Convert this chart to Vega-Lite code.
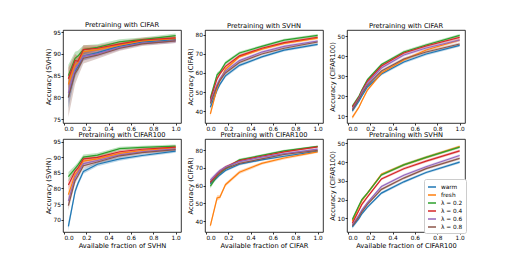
{
"$schema": "https://vega.github.io/schema/vega-lite/v6.json",
"padding": {"left": 44, "top": 21, "right": 4, "bottom": 4},
"background": "white",
"config": {
 "font": "DejaVu Sans",
 "view": {"stroke": "black", "strokeWidth": 0.8},
 "axis": {"grid": false, "domain": false, "tickColor": "black", "tickSize": 2, "tickWidth": 0.8, "labelFontSize": 5.8, "labelColor": "black", "titleFontSize": 6.7, "titleFontWeight": "normal", "titleColor": "black", "labelPadding": 0.5, "titlePadding": 2},
 "title": {"fontSize": 6.7, "fontWeight": "normal", "offset": 0.5, "color": "black"},
 "legend": {"symbolType": "stroke", "symbolStrokeWidth": 1.5, "symbolSize": 64, "symbolOpacity": 1, "labelFontSize": 5.8, "labelColor": "black", "labelOpacity": 1, "rowPadding": 0, "padding": 3, "fillColor": "white", "strokeColor": "#cccccc", "cornerRadius": 2, "labelOffset": 4, "orient": "none", "legendX": 361, "legendY": 149, "title": null}
},
"datasets": {
"d1": [
{"s":"warm","x":0.04,"y":80,"lo":77.5,"hi":82.5},{"s":"warm","x":0.1,"y":86,"lo":84.5,"hi":87.5},{"s":"warm","x":0.125,"y":87,"lo":85.8,"hi":88.2},{"s":"warm","x":0.175,"y":89.5,"lo":88.5,"hi":90.5},{"s":"warm","x":0.3,"y":90.3,"lo":89.6,"hi":91},{"s":"warm","x":0.5,"y":91.8,"lo":91.2,"hi":92.4},{"s":"warm","x":0.7,"y":92.7,"lo":92.2,"hi":93.2},{"s":"warm","x":1,"y":93.3,"lo":92.8,"hi":93.8},
{"s":"fresh","x":0.04,"y":83,"lo":80.5,"hi":85.5},{"s":"fresh","x":0.1,"y":87.5,"lo":86,"hi":89},{"s":"fresh","x":0.125,"y":88,"lo":86.8,"hi":89.2},{"s":"fresh","x":0.175,"y":90.5,"lo":89.5,"hi":91.5},{"s":"fresh","x":0.3,"y":91,"lo":90.3,"hi":91.7},{"s":"fresh","x":0.5,"y":92,"lo":91.4,"hi":92.6},{"s":"fresh","x":0.7,"y":93,"lo":92.5,"hi":93.5},{"s":"fresh","x":1,"y":93.5,"lo":93,"hi":94},
{"s":"λ = 0.2","x":0.04,"y":85,"lo":82.5,"hi":87.5},{"s":"λ = 0.2","x":0.1,"y":89,"lo":87.5,"hi":90.5},{"s":"λ = 0.2","x":0.125,"y":89.5,"lo":88.3,"hi":90.7},{"s":"λ = 0.2","x":0.175,"y":91,"lo":90,"hi":92},{"s":"λ = 0.2","x":0.3,"y":91.5,"lo":90.8,"hi":92.2},{"s":"λ = 0.2","x":0.5,"y":92.8,"lo":92.2,"hi":93.4},{"s":"λ = 0.2","x":0.7,"y":93.3,"lo":92.8,"hi":93.8},{"s":"λ = 0.2","x":1,"y":94.2,"lo":93.7,"hi":94.7},
{"s":"λ = 0.4","x":0.04,"y":84.3,"lo":81.8,"hi":86.8},{"s":"λ = 0.4","x":0.1,"y":88.5,"lo":87,"hi":90},{"s":"λ = 0.4","x":0.125,"y":88.3,"lo":87.1,"hi":89.5},{"s":"λ = 0.4","x":0.175,"y":91,"lo":90,"hi":92},{"s":"λ = 0.4","x":0.3,"y":91.3,"lo":90.6,"hi":92},{"s":"λ = 0.4","x":0.5,"y":92.3,"lo":91.7,"hi":92.9},{"s":"λ = 0.4","x":0.7,"y":93.2,"lo":92.7,"hi":93.7},{"s":"λ = 0.4","x":1,"y":93.7,"lo":93.2,"hi":94.2},
{"s":"λ = 0.6","x":0.04,"y":81,"lo":78.5,"hi":83.5},{"s":"λ = 0.6","x":0.1,"y":86.5,"lo":85,"hi":88},{"s":"λ = 0.6","x":0.125,"y":87.5,"lo":86.3,"hi":88.7},{"s":"λ = 0.6","x":0.175,"y":89.5,"lo":88.5,"hi":90.5},{"s":"λ = 0.6","x":0.3,"y":90,"lo":89.3,"hi":90.7},{"s":"λ = 0.6","x":0.5,"y":91.5,"lo":90.9,"hi":92.1},{"s":"λ = 0.6","x":0.7,"y":92.5,"lo":92,"hi":93},{"s":"λ = 0.6","x":1,"y":93,"lo":92.5,"hi":93.5},
{"s":"λ = 0.8","x":0.04,"y":80,"lo":75.5,"hi":84.5},{"s":"λ = 0.8","x":0.1,"y":85.5,"lo":83,"hi":88},{"s":"λ = 0.8","x":0.125,"y":86.5,"lo":84.7,"hi":88.3},{"s":"λ = 0.8","x":0.175,"y":89,"lo":87.8,"hi":90.2},{"s":"λ = 0.8","x":0.3,"y":89.7,"lo":88.9,"hi":90.5},{"s":"λ = 0.8","x":0.5,"y":91.3,"lo":90.7,"hi":91.9},{"s":"λ = 0.8","x":0.7,"y":92.3,"lo":91.8,"hi":92.8},{"s":"λ = 0.8","x":1,"y":93,"lo":92.5,"hi":93.5}
],
"d2": [
{"s":"warm","x":0.04,"y":42,"lo":40.5,"hi":43.5},{"s":"warm","x":0.1,"y":51,"lo":49.8,"hi":52.2},{"s":"warm","x":0.125,"y":54,"lo":53,"hi":55},{"s":"warm","x":0.175,"y":58.5,"lo":57.6,"hi":59.4},{"s":"warm","x":0.3,"y":64,"lo":63.2,"hi":64.8},{"s":"warm","x":0.5,"y":68.5,"lo":67.8,"hi":69.2},{"s":"warm","x":0.7,"y":72,"lo":71.3,"hi":72.7},{"s":"warm","x":1,"y":75,"lo":74.3,"hi":75.7},
{"s":"fresh","x":0.04,"y":38.5,"lo":37,"hi":40},{"s":"fresh","x":0.1,"y":52,"lo":50.8,"hi":53.2},{"s":"fresh","x":0.125,"y":56,"lo":55,"hi":57},{"s":"fresh","x":0.175,"y":62,"lo":61.1,"hi":62.9},{"s":"fresh","x":0.3,"y":68.5,"lo":67.7,"hi":69.3},{"s":"fresh","x":0.5,"y":72.5,"lo":71.8,"hi":73.2},{"s":"fresh","x":0.7,"y":75.5,"lo":74.8,"hi":76.2},{"s":"fresh","x":1,"y":78.3,"lo":77.6,"hi":79},
{"s":"λ = 0.2","x":0.04,"y":46.8,"lo":45.3,"hi":48.3},{"s":"λ = 0.2","x":0.1,"y":59,"lo":57.8,"hi":60.2},{"s":"λ = 0.2","x":0.125,"y":60.5,"lo":59.5,"hi":61.5},{"s":"λ = 0.2","x":0.175,"y":65.3,"lo":64.4,"hi":66.2},{"s":"λ = 0.2","x":0.3,"y":70.5,"lo":69.7,"hi":71.3},{"s":"λ = 0.2","x":0.5,"y":74,"lo":73.3,"hi":74.7},{"s":"λ = 0.2","x":0.7,"y":77.3,"lo":76.6,"hi":78},{"s":"λ = 0.2","x":1,"y":79.8,"lo":79.1,"hi":80.5},
{"s":"λ = 0.4","x":0.04,"y":46,"lo":44.5,"hi":47.5},{"s":"λ = 0.4","x":0.1,"y":57,"lo":55.8,"hi":58.2},{"s":"λ = 0.4","x":0.125,"y":59.5,"lo":58.5,"hi":60.5},{"s":"λ = 0.4","x":0.175,"y":63.5,"lo":62.6,"hi":64.4},{"s":"λ = 0.4","x":0.3,"y":69,"lo":68.2,"hi":69.8},{"s":"λ = 0.4","x":0.5,"y":73,"lo":72.3,"hi":73.7},{"s":"λ = 0.4","x":0.7,"y":76,"lo":75.3,"hi":76.7},{"s":"λ = 0.4","x":1,"y":78.8,"lo":78.1,"hi":79.5},
{"s":"λ = 0.6","x":0.04,"y":45,"lo":43.5,"hi":46.5},{"s":"λ = 0.6","x":0.1,"y":54,"lo":52.8,"hi":55.2},{"s":"λ = 0.6","x":0.125,"y":57,"lo":56,"hi":58},{"s":"λ = 0.6","x":0.175,"y":61,"lo":60.1,"hi":61.9},{"s":"λ = 0.6","x":0.3,"y":66.5,"lo":65.7,"hi":67.3},{"s":"λ = 0.6","x":0.5,"y":71,"lo":70.3,"hi":71.7},{"s":"λ = 0.6","x":0.7,"y":74,"lo":73.3,"hi":74.7},{"s":"λ = 0.6","x":1,"y":76.8,"lo":76.1,"hi":77.5},
{"s":"λ = 0.8","x":0.04,"y":44,"lo":42.5,"hi":45.5},{"s":"λ = 0.8","x":0.1,"y":53,"lo":51.8,"hi":54.2},{"s":"λ = 0.8","x":0.125,"y":56,"lo":55,"hi":57},{"s":"λ = 0.8","x":0.175,"y":60,"lo":59.1,"hi":60.9},{"s":"λ = 0.8","x":0.3,"y":65.5,"lo":64.7,"hi":66.3},{"s":"λ = 0.8","x":0.5,"y":70,"lo":69.3,"hi":70.7},{"s":"λ = 0.8","x":0.7,"y":73,"lo":72.3,"hi":73.7},{"s":"λ = 0.8","x":1,"y":76.3,"lo":75.6,"hi":77}
],
"d3": [
{"s":"warm","x":0.04,"y":12.5,"lo":11.5,"hi":13.5},{"s":"warm","x":0.1,"y":17.5,"lo":16.7,"hi":18.3},{"s":"warm","x":0.125,"y":20,"lo":19.2,"hi":20.8},{"s":"warm","x":0.175,"y":24.5,"lo":23.8,"hi":25.2},{"s":"warm","x":0.3,"y":31,"lo":30.3,"hi":31.7},{"s":"warm","x":0.5,"y":37,"lo":36.3,"hi":37.7},{"s":"warm","x":0.7,"y":41,"lo":40.3,"hi":41.7},{"s":"warm","x":1,"y":45.3,"lo":44.6,"hi":46},
{"s":"fresh","x":0.04,"y":9.3,"lo":8.3,"hi":10.3},{"s":"fresh","x":0.1,"y":14.5,"lo":13.7,"hi":15.3},{"s":"fresh","x":0.125,"y":17.5,"lo":16.7,"hi":18.3},{"s":"fresh","x":0.175,"y":23,"lo":22.3,"hi":23.7},{"s":"fresh","x":0.3,"y":31.5,"lo":30.8,"hi":32.2},{"s":"fresh","x":0.5,"y":38,"lo":37.3,"hi":38.7},{"s":"fresh","x":0.7,"y":43,"lo":42.3,"hi":43.7},{"s":"fresh","x":1,"y":48,"lo":47.3,"hi":48.7},
{"s":"λ = 0.2","x":0.04,"y":14.8,"lo":13.8,"hi":15.8},{"s":"λ = 0.2","x":0.1,"y":20,"lo":19.2,"hi":20.8},{"s":"λ = 0.2","x":0.125,"y":23,"lo":22.2,"hi":23.8},{"s":"λ = 0.2","x":0.175,"y":28.2,"lo":27.5,"hi":28.9},{"s":"λ = 0.2","x":0.3,"y":35.7,"lo":35,"hi":36.4},{"s":"λ = 0.2","x":0.5,"y":42,"lo":41.3,"hi":42.7},{"s":"λ = 0.2","x":0.7,"y":45.5,"lo":44.8,"hi":46.2},{"s":"λ = 0.2","x":1,"y":50.3,"lo":49.6,"hi":51},
{"s":"λ = 0.4","x":0.04,"y":14.5,"lo":13.5,"hi":15.5},{"s":"λ = 0.4","x":0.1,"y":19.5,"lo":18.7,"hi":20.3},{"s":"λ = 0.4","x":0.125,"y":22.5,"lo":21.7,"hi":23.3},{"s":"λ = 0.4","x":0.175,"y":27.5,"lo":26.8,"hi":28.2},{"s":"λ = 0.4","x":0.3,"y":35,"lo":34.3,"hi":35.7},{"s":"λ = 0.4","x":0.5,"y":41.5,"lo":40.8,"hi":42.2},{"s":"λ = 0.4","x":0.7,"y":45,"lo":44.3,"hi":45.7},{"s":"λ = 0.4","x":1,"y":49.3,"lo":48.6,"hi":50},
{"s":"λ = 0.6","x":0.04,"y":13.5,"lo":12.5,"hi":14.5},{"s":"λ = 0.6","x":0.1,"y":19,"lo":18.2,"hi":19.8},{"s":"λ = 0.6","x":0.125,"y":22,"lo":21.2,"hi":22.8},{"s":"λ = 0.6","x":0.175,"y":26.5,"lo":25.8,"hi":27.2},{"s":"λ = 0.6","x":0.3,"y":34,"lo":33.3,"hi":34.7},{"s":"λ = 0.6","x":0.5,"y":40.5,"lo":39.8,"hi":41.2},{"s":"λ = 0.6","x":0.7,"y":44,"lo":43.3,"hi":44.7},{"s":"λ = 0.6","x":1,"y":48,"lo":47.3,"hi":48.7},
{"s":"λ = 0.8","x":0.04,"y":13,"lo":12,"hi":14},{"s":"λ = 0.8","x":0.1,"y":18.5,"lo":17.7,"hi":19.3},{"s":"λ = 0.8","x":0.125,"y":21,"lo":20.2,"hi":21.8},{"s":"λ = 0.8","x":0.175,"y":25.5,"lo":24.8,"hi":26.2},{"s":"λ = 0.8","x":0.3,"y":32.5,"lo":31.8,"hi":33.2},{"s":"λ = 0.8","x":0.5,"y":38.5,"lo":37.8,"hi":39.2},{"s":"λ = 0.8","x":0.7,"y":42,"lo":41.3,"hi":42.7},{"s":"λ = 0.8","x":1,"y":46,"lo":45.3,"hi":46.7}
],
"d4": [
{"s":"warm","x":0.04,"y":67.8,"lo":66.3,"hi":69.3},{"s":"warm","x":0.1,"y":79,"lo":78,"hi":80},{"s":"warm","x":0.125,"y":81.5,"lo":80.6,"hi":82.4},{"s":"warm","x":0.175,"y":85.5,"lo":84.7,"hi":86.3},{"s":"warm","x":0.3,"y":87.8,"lo":87.1,"hi":88.5},{"s":"warm","x":0.5,"y":89.5,"lo":88.9,"hi":90.1},{"s":"warm","x":0.7,"y":90.6,"lo":90.1,"hi":91.1},{"s":"warm","x":1,"y":92,"lo":91.5,"hi":92.5},
{"s":"fresh","x":0.04,"y":78,"lo":76.5,"hi":79.5},{"s":"fresh","x":0.1,"y":84.5,"lo":83.5,"hi":85.5},{"s":"fresh","x":0.125,"y":85.5,"lo":84.6,"hi":86.4},{"s":"fresh","x":0.175,"y":88.8,"lo":88,"hi":89.6},{"s":"fresh","x":0.3,"y":89.5,"lo":88.8,"hi":90.2},{"s":"fresh","x":0.5,"y":91.3,"lo":90.7,"hi":91.9},{"s":"fresh","x":0.7,"y":92.2,"lo":91.7,"hi":92.7},{"s":"fresh","x":1,"y":93.1,"lo":92.6,"hi":93.6},
{"s":"λ = 0.2","x":0.04,"y":83.8,"lo":82.3,"hi":85.3},{"s":"λ = 0.2","x":0.1,"y":86.4,"lo":85.4,"hi":87.4},{"s":"λ = 0.2","x":0.125,"y":87.5,"lo":86.6,"hi":88.4},{"s":"λ = 0.2","x":0.175,"y":90.1,"lo":89.3,"hi":90.9},{"s":"λ = 0.2","x":0.3,"y":90.7,"lo":90,"hi":91.4},{"s":"λ = 0.2","x":0.5,"y":92.8,"lo":92.2,"hi":93.4},{"s":"λ = 0.2","x":0.7,"y":93.2,"lo":92.7,"hi":93.7},{"s":"λ = 0.2","x":1,"y":93.6,"lo":93.1,"hi":94.1},
{"s":"λ = 0.4","x":0.04,"y":81.1,"lo":79.6,"hi":82.6},{"s":"λ = 0.4","x":0.1,"y":85.5,"lo":84.5,"hi":86.5},{"s":"λ = 0.4","x":0.125,"y":86.5,"lo":85.6,"hi":87.4},{"s":"λ = 0.4","x":0.175,"y":89.5,"lo":88.7,"hi":90.3},{"s":"λ = 0.4","x":0.3,"y":90,"lo":89.3,"hi":90.7},{"s":"λ = 0.4","x":0.5,"y":91.8,"lo":91.2,"hi":92.4},{"s":"λ = 0.4","x":0.7,"y":92.6,"lo":92.1,"hi":93.1},{"s":"λ = 0.4","x":1,"y":93.3,"lo":92.8,"hi":93.8},
{"s":"λ = 0.6","x":0.04,"y":76,"lo":74.5,"hi":77.5},{"s":"λ = 0.6","x":0.1,"y":83.5,"lo":82.5,"hi":84.5},{"s":"λ = 0.6","x":0.125,"y":85,"lo":84.1,"hi":85.9},{"s":"λ = 0.6","x":0.175,"y":88,"lo":87.2,"hi":88.8},{"s":"λ = 0.6","x":0.3,"y":89,"lo":88.3,"hi":89.7},{"s":"λ = 0.6","x":0.5,"y":90.8,"lo":90.2,"hi":91.4},{"s":"λ = 0.6","x":0.7,"y":91.8,"lo":91.3,"hi":92.3},{"s":"λ = 0.6","x":1,"y":92.7,"lo":92.2,"hi":93.2},
{"s":"λ = 0.8","x":0.04,"y":74.5,"lo":73,"hi":76},{"s":"λ = 0.8","x":0.1,"y":82.5,"lo":81.5,"hi":83.5},{"s":"λ = 0.8","x":0.125,"y":84,"lo":83.1,"hi":84.9},{"s":"λ = 0.8","x":0.175,"y":87.3,"lo":86.5,"hi":88.1},{"s":"λ = 0.8","x":0.3,"y":88.5,"lo":87.8,"hi":89.2},{"s":"λ = 0.8","x":0.5,"y":90.5,"lo":89.9,"hi":91.1},{"s":"λ = 0.8","x":0.7,"y":91.5,"lo":91,"hi":92},{"s":"λ = 0.8","x":1,"y":92.5,"lo":92,"hi":93}
],
"d5": [
{"s":"warm","x":0.04,"y":61,"lo":59.8,"hi":62.2},{"s":"warm","x":0.1,"y":64.5,"lo":63.6,"hi":65.4},{"s":"warm","x":0.125,"y":66,"lo":65.2,"hi":66.8},{"s":"warm","x":0.175,"y":68.5,"lo":67.8,"hi":69.2},{"s":"warm","x":0.3,"y":72,"lo":71.3,"hi":72.7},{"s":"warm","x":0.5,"y":74.5,"lo":73.9,"hi":75.1},{"s":"warm","x":0.7,"y":76.5,"lo":75.9,"hi":77.1},{"s":"warm","x":1,"y":79.3,"lo":78.7,"hi":79.9},
{"s":"fresh","x":0.04,"y":37.5,"lo":36,"hi":39},{"s":"fresh","x":0.1,"y":53,"lo":51.5,"hi":54.5},{"s":"fresh","x":0.125,"y":53.5,"lo":52.3,"hi":54.7},{"s":"fresh","x":0.175,"y":60.5,"lo":59.5,"hi":61.5},{"s":"fresh","x":0.3,"y":67.5,"lo":66.5,"hi":68.5},{"s":"fresh","x":0.5,"y":72.5,"lo":71.7,"hi":73.3},{"s":"fresh","x":0.7,"y":75.5,"lo":74.7,"hi":76.3},{"s":"fresh","x":1,"y":79,"lo":78.3,"hi":79.7},
{"s":"λ = 0.2","x":0.04,"y":59.6,"lo":58.4,"hi":60.8},{"s":"λ = 0.2","x":0.1,"y":65.5,"lo":64.6,"hi":66.4},{"s":"λ = 0.2","x":0.125,"y":67,"lo":66.2,"hi":67.8},{"s":"λ = 0.2","x":0.175,"y":69.5,"lo":68.8,"hi":70.2},{"s":"λ = 0.2","x":0.3,"y":74.5,"lo":73.8,"hi":75.2},{"s":"λ = 0.2","x":0.5,"y":77,"lo":76.4,"hi":77.6},{"s":"λ = 0.2","x":0.7,"y":79.5,"lo":78.9,"hi":80.1},{"s":"λ = 0.2","x":1,"y":82,"lo":81.4,"hi":82.6},
{"s":"λ = 0.4","x":0.04,"y":62,"lo":60.8,"hi":63.2},{"s":"λ = 0.4","x":0.1,"y":66.5,"lo":65.6,"hi":67.4},{"s":"λ = 0.4","x":0.125,"y":68,"lo":67.2,"hi":68.8},{"s":"λ = 0.4","x":0.175,"y":70.5,"lo":69.8,"hi":71.2},{"s":"λ = 0.4","x":0.3,"y":74,"lo":73.3,"hi":74.7},{"s":"λ = 0.4","x":0.5,"y":76.5,"lo":75.9,"hi":77.1},{"s":"λ = 0.4","x":0.7,"y":79,"lo":78.4,"hi":79.6},{"s":"λ = 0.4","x":1,"y":81.8,"lo":81.2,"hi":82.4},
{"s":"λ = 0.6","x":0.04,"y":63,"lo":61.8,"hi":64.2},{"s":"λ = 0.6","x":0.1,"y":67,"lo":66.1,"hi":67.9},{"s":"λ = 0.6","x":0.125,"y":68.5,"lo":67.7,"hi":69.3},{"s":"λ = 0.6","x":0.175,"y":70.5,"lo":69.8,"hi":71.2},{"s":"λ = 0.6","x":0.3,"y":73.5,"lo":72.8,"hi":74.2},{"s":"λ = 0.6","x":0.5,"y":76,"lo":75.4,"hi":76.6},{"s":"λ = 0.6","x":0.7,"y":78,"lo":77.4,"hi":78.6},{"s":"λ = 0.6","x":1,"y":80.5,"lo":79.9,"hi":81.1},
{"s":"λ = 0.8","x":0.04,"y":61.5,"lo":60.3,"hi":62.7},{"s":"λ = 0.8","x":0.1,"y":65.5,"lo":64.6,"hi":66.4},{"s":"λ = 0.8","x":0.125,"y":67,"lo":66.2,"hi":67.8},{"s":"λ = 0.8","x":0.175,"y":69.5,"lo":68.8,"hi":70.2},{"s":"λ = 0.8","x":0.3,"y":72.5,"lo":71.8,"hi":73.2},{"s":"λ = 0.8","x":0.5,"y":75,"lo":74.4,"hi":75.6},{"s":"λ = 0.8","x":0.7,"y":77.5,"lo":76.9,"hi":78.1},{"s":"λ = 0.8","x":1,"y":79.8,"lo":79.2,"hi":80.4}
],
"d6": [
{"s":"warm","x":0.04,"y":5.5,"lo":4.5,"hi":6.5},{"s":"warm","x":0.1,"y":10,"lo":9.2,"hi":10.8},{"s":"warm","x":0.125,"y":12.5,"lo":11.7,"hi":13.3},{"s":"warm","x":0.175,"y":16,"lo":15.3,"hi":16.7},{"s":"warm","x":0.3,"y":23.5,"lo":22.8,"hi":24.2},{"s":"warm","x":0.5,"y":29.5,"lo":28.8,"hi":30.2},{"s":"warm","x":0.7,"y":34.5,"lo":33.8,"hi":35.2},{"s":"warm","x":1,"y":40,"lo":39.3,"hi":40.7},
{"s":"fresh","x":0.04,"y":8.5,"lo":7.5,"hi":9.5},{"s":"fresh","x":0.1,"y":16.5,"lo":15.7,"hi":17.3},{"s":"fresh","x":0.125,"y":19.5,"lo":18.7,"hi":20.3},{"s":"fresh","x":0.175,"y":23.5,"lo":22.8,"hi":24.2},{"s":"fresh","x":0.3,"y":33.5,"lo":32.8,"hi":34.2},{"s":"fresh","x":0.5,"y":38.5,"lo":37.8,"hi":39.2},{"s":"fresh","x":0.7,"y":42.5,"lo":41.8,"hi":43.2},{"s":"fresh","x":1,"y":48.3,"lo":47.6,"hi":49},
{"s":"λ = 0.2","x":0.04,"y":9.5,"lo":8.5,"hi":10.5},{"s":"λ = 0.2","x":0.1,"y":17,"lo":16.2,"hi":17.8},{"s":"λ = 0.2","x":0.125,"y":20,"lo":19.2,"hi":20.8},{"s":"λ = 0.2","x":0.175,"y":23.5,"lo":22.8,"hi":24.2},{"s":"λ = 0.2","x":0.3,"y":33.2,"lo":32.5,"hi":33.9},{"s":"λ = 0.2","x":0.5,"y":38.5,"lo":37.8,"hi":39.2},{"s":"λ = 0.2","x":0.7,"y":42.5,"lo":41.8,"hi":43.2},{"s":"λ = 0.2","x":1,"y":48,"lo":47.3,"hi":48.7},
{"s":"λ = 0.4","x":0.04,"y":7.5,"lo":6.5,"hi":8.5},{"s":"λ = 0.4","x":0.1,"y":14.5,"lo":13.7,"hi":15.3},{"s":"λ = 0.4","x":0.125,"y":17.5,"lo":16.7,"hi":18.3},{"s":"λ = 0.4","x":0.175,"y":21.5,"lo":20.8,"hi":22.2},{"s":"λ = 0.4","x":0.3,"y":31,"lo":30.3,"hi":31.7},{"s":"λ = 0.4","x":0.5,"y":36.5,"lo":35.8,"hi":37.2},{"s":"λ = 0.4","x":0.7,"y":40.5,"lo":39.8,"hi":41.2},{"s":"λ = 0.4","x":1,"y":46,"lo":45.3,"hi":46.7},
{"s":"λ = 0.6","x":0.04,"y":6.5,"lo":5.5,"hi":7.5},{"s":"λ = 0.6","x":0.1,"y":12,"lo":11.2,"hi":12.8},{"s":"λ = 0.6","x":0.125,"y":14.5,"lo":13.7,"hi":15.3},{"s":"λ = 0.6","x":0.175,"y":18.5,"lo":17.8,"hi":19.2},{"s":"λ = 0.6","x":0.3,"y":27,"lo":26.3,"hi":27.7},{"s":"λ = 0.6","x":0.5,"y":33,"lo":32.3,"hi":33.7},{"s":"λ = 0.6","x":0.7,"y":37.5,"lo":36.8,"hi":38.2},{"s":"λ = 0.6","x":1,"y":43.5,"lo":42.8,"hi":44.2},
{"s":"λ = 0.8","x":0.04,"y":6,"lo":5,"hi":7},{"s":"λ = 0.8","x":0.1,"y":11,"lo":10.2,"hi":11.8},{"s":"λ = 0.8","x":0.125,"y":13.5,"lo":12.7,"hi":14.3},{"s":"λ = 0.8","x":0.175,"y":17.5,"lo":16.8,"hi":18.2},{"s":"λ = 0.8","x":0.3,"y":25.5,"lo":24.8,"hi":26.2},{"s":"λ = 0.8","x":0.5,"y":31.5,"lo":30.8,"hi":32.2},{"s":"λ = 0.8","x":0.7,"y":36.5,"lo":35.8,"hi":37.2},{"s":"λ = 0.8","x":1,"y":42,"lo":41.3,"hi":42.7}
]
},
"columns": 3,
"spacing": {"row": 16, "column": 24},
"bounds": "flush",
"concat": [
 {"width":118,"height":93,"data":{"name":"d1"},"title":"Pretraining with CIFAR",
  "encoding":{"x":{"field":"x","type":"quantitative","scale":{"domain":[-0.008,1.048],"nice":false,"zero":false},"axis":{"values":[0,0.2,0.4,0.6,0.8,1],"format":".1f","title":null}},
   "color":{"field":"s","type":"nominal","scale":{"domain":["warm","fresh","λ = 0.2","λ = 0.4","λ = 0.6","λ = 0.8"],"range":["#1f77b4","#ff7f0e","#2ca02c","#d62728","#9467bd","#8c564b"]}}},
  "layer":[
   {"mark":{"type":"area","opacity":0.3},"encoding":{"y":{"field":"lo","type":"quantitative","scale":{"domain":[74.1,95.5],"nice":false,"zero":false},"axis":{"values":[75,80,85,90,95],"title":"Accuracy (SVHN)"}},"y2":{"field":"hi"}}},
   {"mark":{"type":"line","strokeWidth":1.2},"encoding":{"y":{"field":"y","type":"quantitative","axis":{"values":[75,80,85,90,95],"title":"Accuracy (SVHN)"}}}}
  ]},
 {"width":118,"height":93,"data":{"name":"d2"},"title":"Pretraining with SVHN",
  "encoding":{"x":{"field":"x","type":"quantitative","scale":{"domain":[-0.008,1.048],"nice":false,"zero":false},"axis":{"values":[0,0.2,0.4,0.6,0.8,1],"format":".1f","title":null}},
   "color":{"field":"s","type":"nominal","scale":{"domain":["warm","fresh","λ = 0.2","λ = 0.4","λ = 0.6","λ = 0.8"],"range":["#1f77b4","#ff7f0e","#2ca02c","#d62728","#9467bd","#8c564b"]}}},
  "layer":[
   {"mark":{"type":"area","opacity":0.3},"encoding":{"y":{"field":"lo","type":"quantitative","scale":{"domain":[33.7,82.6],"nice":false,"zero":false},"axis":{"values":[40,50,60,70,80],"title":"Accuracy (CIFAR)"}},"y2":{"field":"hi"}}},
   {"mark":{"type":"line","strokeWidth":1.2},"encoding":{"y":{"field":"y","type":"quantitative","axis":{"values":[40,50,60,70,80],"title":"Accuracy (CIFAR)"}}}}
  ]},
 {"width":118,"height":93,"data":{"name":"d3"},"title":"Pretraining with CIFAR",
  "encoding":{"x":{"field":"x","type":"quantitative","scale":{"domain":[-0.008,1.048],"nice":false,"zero":false},"axis":{"values":[0,0.2,0.4,0.6,0.8,1],"format":".1f","title":null}},
   "color":{"field":"s","type":"nominal","scale":{"domain":["warm","fresh","λ = 0.2","λ = 0.4","λ = 0.6","λ = 0.8"],"range":["#1f77b4","#ff7f0e","#2ca02c","#d62728","#9467bd","#8c564b"]}}},
  "layer":[
   {"mark":{"type":"area","opacity":0.3},"encoding":{"y":{"field":"lo","type":"quantitative","scale":{"domain":[6.5,53],"nice":false,"zero":false},"axis":{"values":[10,20,30,40,50],"title":"Accuracy (CIFAR100)"}},"y2":{"field":"hi"}}},
   {"mark":{"type":"line","strokeWidth":1.2},"encoding":{"y":{"field":"y","type":"quantitative","axis":{"values":[10,20,30,40,50],"title":"Accuracy (CIFAR100)"}}}}
  ]},
 {"width":118,"height":93,"data":{"name":"d4"},"title":"Pretraining with CIFAR100",
  "encoding":{"x":{"field":"x","type":"quantitative","scale":{"domain":[-0.008,1.048],"nice":false,"zero":false},"axis":{"values":[0,0.2,0.4,0.6,0.8,1],"format":".1f","title":"Available fraction of SVHN"}},
   "color":{"field":"s","type":"nominal","scale":{"domain":["warm","fresh","λ = 0.2","λ = 0.4","λ = 0.6","λ = 0.8"],"range":["#1f77b4","#ff7f0e","#2ca02c","#d62728","#9467bd","#8c564b"]}}},
  "layer":[
   {"mark":{"type":"area","opacity":0.3},"encoding":{"y":{"field":"lo","type":"quantitative","scale":{"domain":[66,95.9],"nice":false,"zero":false},"axis":{"values":[70,75,80,85,90,95],"title":"Accuracy (SVHN)"}},"y2":{"field":"hi"}}},
   {"mark":{"type":"line","strokeWidth":1.2},"encoding":{"y":{"field":"y","type":"quantitative","axis":{"values":[70,75,80,85,90,95],"title":"Accuracy (SVHN)"}}}}
  ]},
 {"width":118,"height":93,"data":{"name":"d5"},"title":"Pretraining with CIFAR100",
  "encoding":{"x":{"field":"x","type":"quantitative","scale":{"domain":[-0.008,1.048],"nice":false,"zero":false},"axis":{"values":[0,0.2,0.4,0.6,0.8,1],"format":".1f","title":"Available fraction of CIFAR"}},
   "color":{"field":"s","type":"nominal","scale":{"domain":["warm","fresh","λ = 0.2","λ = 0.4","λ = 0.6","λ = 0.8"],"range":["#1f77b4","#ff7f0e","#2ca02c","#d62728","#9467bd","#8c564b"]}}},
  "layer":[
   {"mark":{"type":"area","opacity":0.3},"encoding":{"y":{"field":"lo","type":"quantitative","scale":{"domain":[33.9,86.2],"nice":false,"zero":false},"axis":{"values":[40,50,60,70,80],"title":"Accuracy (CIFAR)"}},"y2":{"field":"hi"}}},
   {"mark":{"type":"line","strokeWidth":1.2},"encoding":{"y":{"field":"y","type":"quantitative","axis":{"values":[40,50,60,70,80],"title":"Accuracy (CIFAR)"}}}}
  ]},
 {"width":118,"height":93,"data":{"name":"d6"},"title":"Pretraining with SVHN",
  "encoding":{"x":{"field":"x","type":"quantitative","scale":{"domain":[-0.008,1.048],"nice":false,"zero":false},"axis":{"values":[0,0.2,0.4,0.6,0.8,1],"format":".1f","title":"Available fraction of CIFAR100"}},
   "color":{"field":"s","type":"nominal","scale":{"domain":["warm","fresh","λ = 0.2","λ = 0.4","λ = 0.6","λ = 0.8"],"range":["#1f77b4","#ff7f0e","#2ca02c","#d62728","#9467bd","#8c564b"]}}},
  "layer":[
   {"mark":{"type":"area","opacity":0.3},"encoding":{"y":{"field":"lo","type":"quantitative","scale":{"domain":[2.8,52.3],"nice":false,"zero":false},"axis":{"values":[10,20,30,40,50],"title":"Accuracy (CIFAR100)"}},"y2":{"field":"hi"}}},
   {"mark":{"type":"line","strokeWidth":1.2},"encoding":{"y":{"field":"y","type":"quantitative","axis":{"values":[10,20,30,40,50],"title":"Accuracy (CIFAR100)"}}}}
  ]}
]
}
